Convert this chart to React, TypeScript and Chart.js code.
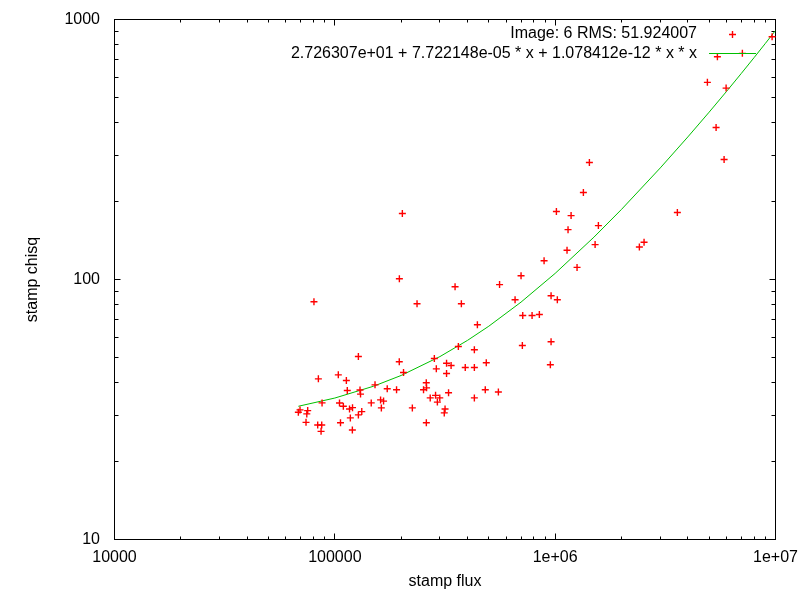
import { useEffect, useRef } from "react";
import { Chart, registerables } from "chart.js";

Chart.register(...registerables);

// ---- data ----
const fluxValues = [
  68300, 69500, 75300, 74600, 74000, 80400, 84200, 83600, 87200, 86600,
  87500, 103700, 105000, 109300, 106100, 112800, 113900, 116600, 120300, 117600,
  120100, 127900, 130100, 130800, 132500, 127900, 146300, 152200, 161300, 166400,
  162600, 172900, 190600, 196100, 196300, 202500, 205000, 224800, 236100, 260000,
  260800, 252700, 260200, 282900, 288800, 271000, 286500, 299400, 292000, 321400,
  337000, 321400, 328200, 316400, 313800, 351300, 363600, 375200, 390800, 429800,
  429800, 429800, 443600, 486800, 481700, 552400, 559300, 657700, 700100, 712600,
  709700, 785600, 847800, 890600, 951000, 958100, 958100, 1023000, 1013000, 1132000,
  1144000, 1181000, 1257000, 1343000, 1430000, 1518000, 1571000, 2411000, 2532000, 3586000,
  4908000, 5375000, 5449000, 5844000, 5968000, 7074000, 9652000,
];

const chisqValues = [
  30.85, 31.51, 31.31, 30.41, 28.22, 82.13, 41.48, 27.58, 27.58, 26.06,
  33.53, 42.98, 33.48, 32.53, 28.14, 40.86, 37.4, 31.78, 32.15, 29.35,
  26.38, 50.54, 37.56, 36.25, 31.04, 30.14, 33.53, 39.33, 34.43, 34.07,
  32.07, 37.99, 37.66, 48.28, 100.7, 179.3, 43.86, 32.07, 80.69, 40.05,
  38.3, 37.66, 28.14, 49.66, 45.33, 35.05, 35.84, 35.05, 33.77, 47.61,
  46.69, 43.48, 36.67, 31.78, 30.69, 93.8, 55.25, 80.69, 45.87, 45.87,
  53.65, 35.05, 66.97, 47.82, 37.66, 36.9, 95.6, 83.6, 103.4, 72.7,
  55.74, 72.7, 73.37, 118.1, 46.98, 57.6, 86.6, 83.6, 182.5, 129.5,
  155.5, 176.1, 111.3, 216.0, 281.8, 136.2, 161.2, 133.3, 139.0, 180.9,
  573.1, 384.3, 718.9, 289.4, 544.6, 741.0, 858.6,
];

// fitted curve
const fitFlux = [
  68300, 100000, 150000, 200000, 300000, 400000, 500000, 700000, 1000000,
  1500000, 2000000, 3000000, 4000000, 5000000, 6000000, 7000000, 8000000, 9000000, 10000000,
];
const fitChisq = [
  32.54, 35.0, 38.87, 42.75, 50.53, 58.32, 66.14, 81.85, 105.56,
  145.52, 186.02, 268.63, 353.4, 440.33, 529.41, 620.66, 714.05, 809.61, 907.32,
];

const xTickValues = [10000, 100000, 1000000, 10000000];
const xTickLabels = ["10000", "100000", "1e+06", "1e+07"];
const yTickValues = [10, 100, 1000];
const yTickLabels = ["10", "100", "1000"];
const minorMultipliers = [2, 3, 4, 5, 6, 7, 8, 9];

const pointsLabel = "Image: 6 RMS: 51.924007";
const fitLabel = "2.726307e+01 + 7.722148e-05 * x + 1.078412e-12 * x * x";
const xTitle = "stamp flux";
const yTitle = "stamp chisq";

const FONT = "'Liberation Sans', Arial, Helvetica, sans-serif";
const FONT_SIZE = 16;
const RED = "#ff0000";
const GREEN = "#00c000";

const snap = (p: number) => Math.floor(p) + 0.5;

const framePlugin = {
  id: "gnuFrame",
  beforeDatasetsDraw(chart: any) {
    const { ctx, chartArea: a, scales } = chart;
    const xs = scales.x;
    const ys = scales.y;
    ctx.save();
    ctx.strokeStyle = "#000";
    ctx.lineWidth = 1;
    ctx.beginPath();
    const seg = (x1: number, y1: number, x2: number, y2: number) => {
      ctx.moveTo(x1, y1);
      ctx.lineTo(x2, y2);
    };
    // x ticks (bottom + mirrored top)
    xTickValues.forEach((v, i) => {
      const px = snap(xs.getPixelForValue(v));
      seg(px, a.bottom, px, a.bottom - 6);
      seg(px, a.top, px, a.top + 6);
      if (i < xTickValues.length - 1) {
        minorMultipliers.forEach((m) => {
          const mx = snap(xs.getPixelForValue(v * m));
          seg(mx, a.bottom, mx, a.bottom - 3);
          seg(mx, a.top, mx, a.top + 3);
        });
      }
    });
    // y ticks (left + mirrored right)
    yTickValues.forEach((v, i) => {
      const py = snap(ys.getPixelForValue(v));
      seg(a.left, py, a.left + 6, py);
      seg(a.right, py, a.right - 6, py);
      if (i < yTickValues.length - 1) {
        minorMultipliers.forEach((m) => {
          const my = snap(ys.getPixelForValue(v * m));
          seg(a.left, my, a.left + 4, my);
          seg(a.right, my, a.right - 4, my);
        });
      }
    });
    ctx.stroke();
    ctx.strokeRect(a.left, a.top, a.right - a.left, a.bottom - a.top);
    ctx.restore();
  },
};

const keyPlugin = {
  id: "gnuKey",
  afterDraw(chart: any) {
    const { ctx } = chart;
    const datasets = chart.data.datasets;
    const textRight = 697;
    const sampleLeft = 709;
    const sampleRight = 756;
    const textY = [38, 57.5];
    const sampleY = [34.5, 53.5];
    ctx.save();
    ctx.font = `${FONT_SIZE}px ${FONT}`;
    ctx.fillStyle = "#000";
    ctx.textAlign = "right";
    ctx.textBaseline = "alphabetic";
    datasets.forEach((d: any, i: number) => {
      ctx.fillText(d.label, textRight, textY[i]);
      ctx.strokeStyle = d.borderColor;
      ctx.lineWidth = d.borderWidth;
      ctx.beginPath();
      if (d.showLine) {
        ctx.moveTo(sampleLeft, sampleY[i]);
        ctx.lineTo(sampleRight, sampleY[i]);
      } else {
        const cx = (sampleLeft + sampleRight) / 2;
        const r = d.pointRadius;
        ctx.moveTo(cx - r, sampleY[i]);
        ctx.lineTo(cx + r, sampleY[i]);
        ctx.moveTo(cx, sampleY[i] - r);
        ctx.lineTo(cx, sampleY[i] + r);
      }
      ctx.stroke();
    });
    ctx.restore();
  },
};

const zeroPadding = (s: any) => {
  s.paddingLeft = 0;
  s.paddingRight = 0;
  s.paddingTop = 0;
  s.paddingBottom = 0;
};

export default function App() {
  const ref = useRef<HTMLCanvasElement>(null);

  useEffect(() => {
    const canvas = ref.current;
    if (!canvas) return;
    const font = { family: FONT, size: FONT_SIZE };
    const chart = new Chart(canvas, {
      type: "scatter",
      data: {
        datasets: [
          {
            label: pointsLabel,
            data: fluxValues.map((x, i) => ({ x, y: chisqValues[i] })),
            pointStyle: "cross",
            pointRadius: 3.5,
            pointHoverRadius: 3.5,
            borderColor: RED,
            backgroundColor: RED,
            borderWidth: 1.4,
            showLine: false,
            clip: false as any,
          },
          {
            label: fitLabel,
            data: fitFlux.map((x, i) => ({ x, y: fitChisq[i] })),
            showLine: true,
            borderColor: GREEN,
            backgroundColor: GREEN,
            borderWidth: 1,
            pointRadius: 0,
            pointHoverRadius: 0,
            tension: 0,
            fill: false,
          },
        ],
      },
      options: {
        responsive: false,
        animation: false,
        events: [],
        layout: { padding: { left: 0, top: 19.5, right: 24.5, bottom: 0 } },
        plugins: {
          legend: { display: false },
          tooltip: { enabled: false },
        },
        scales: {
          x: {
            type: "logarithmic",
            position: "bottom",
            min: 10000,
            max: 10000000,
            grid: { display: false, drawTicks: false, tickLength: 0 },
            border: { display: false },
            afterBuildTicks: (s: any) => {
              s.ticks = xTickValues.map((v) => ({ value: v }));
            },
            afterFit: (s: any) => {
              s.height = 60.5;
              zeroPadding(s);
            },
            ticks: {
              autoSkip: false,
              maxRotation: 0,
              minRotation: 0,
              padding: 8,
              color: "#000",
              font,
              callback: (v: any) => {
                const i = xTickValues.indexOf(Number(v));
                return i >= 0 ? xTickLabels[i] : "";
              },
            },
            title: {
              display: true,
              text: xTitle,
              color: "#000",
              font,
              padding: { top: 0, bottom: 9 },
            },
          },
          y: {
            type: "logarithmic",
            position: "left",
            min: 10,
            max: 1000,
            grid: { display: false, drawTicks: false, tickLength: 0 },
            border: { display: false },
            afterBuildTicks: (s: any) => {
              s.ticks = yTickValues.map((v) => ({ value: v }));
            },
            afterFit: (s: any) => {
              s.width = 114.5;
              zeroPadding(s);
            },
            ticks: {
              autoSkip: false,
              padding: 14.5,
              color: "#000",
              font,
              callback: (v: any) => {
                const i = yTickValues.indexOf(Number(v));
                return i >= 0 ? yTickLabels[i] : "";
              },
            },
            title: {
              display: true,
              text: yTitle,
              color: "#000",
              font,
              padding: { top: 23, bottom: 0 },
            },
          },
        },
      } as any,
      plugins: [framePlugin, keyPlugin],
    });
    return () => chart.destroy();
  }, []);

  return (
    <div
      style={{
        position: "fixed",
        left: 0,
        top: 0,
        width: 800,
        height: 600,
        background: "#fff",
      }}
    >
      <canvas
        ref={ref}
        width={800}
        height={600}
        style={{ display: "block", width: 800, height: 600 }}
      />
    </div>
  );
}
